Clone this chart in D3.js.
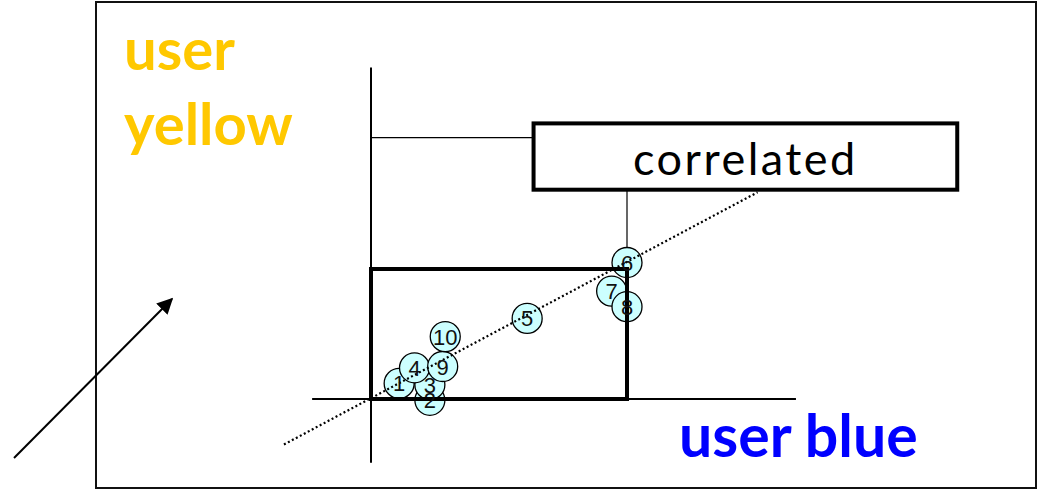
<!DOCTYPE html>
<html>
<head>
<meta charset="utf-8">
<script src="https://cdn.jsdelivr.net/npm/d3@7"></script>
<style>
  body { margin: 0; background: #fff; }
  svg { display: block; }
</style>
</head>
<body>
<script>
// points: user blue score (x) vs user yellow score (y), thresholds at 1
var pointIds = ["1", "2", "3", "4", "5", "6", "7", "8", "9", "10"];
var blueVals = [0.11, 0.23, 0.23, 0.17, 0.61, 1.00, 0.94, 1.00, 0.28, 0.29];
var yellowVals = [0.12, -0.01, 0.11, 0.24, 0.62, 1.05, 0.83, 0.71, 0.25, 0.48];

// trend line end points
var trendX = [-0.34, 1.51];
var trendY = [-0.35, 1.59];

// axis extents
var xAxisExtent = [-0.23, 1.66];
var yAxisExtent = [-0.49, 2.55];

// threshold box and callout
var threshold = [1, 1];
var calloutX = [0.635, 2.29];
var calloutY = [1.61, 2.12];
var calloutText = "correlated";

var width = 1044, height = 490;

var x = d3.scaleLinear().domain([0, 1]).range([371, 627]);
var y = d3.scaleLinear().domain([0, 1]).range([399, 269]);

var svg = d3.select("body").append("svg")
    .attr("width", width)
    .attr("height", height);

svg.append("defs").append("marker")
    .attr("id", "arrow")
    .attr("viewBox", "0 0 10 10")
    .attr("refX", 9)
    .attr("refY", 5)
    .attr("markerWidth", 8)
    .attr("markerHeight", 8)
    .attr("orient", "auto")
    .append("path")
    .attr("d", "M0,0 L10,5 L0,10 z")
    .attr("fill", "#000");

// outer frame
svg.append("rect")
    .attr("x", 96).attr("y", 2)
    .attr("width", 940).attr("height", 486)
    .attr("fill", "none")
    .attr("stroke", "#111")
    .attr("stroke-width", 2);

// the diagonal arrow in the corner
svg.append("line")
    .attr("x1", 14).attr("y1", 458)
    .attr("x2", 172).attr("y2", 299)
    .attr("stroke", "#000")
    .attr("stroke-width", 2)
    .attr("marker-end", "url(#arrow)");

// labels
var bigFont = "Lato, 'Open Sans', sans-serif";
svg.append("text")
    .attr("x", 124).attr("y", 70)
    .style("font-family", bigFont)
    .style("font-weight", "bold")
    .style("font-size", "58px")
    .attr("fill", "#FFC800")
    .text("user");
svg.append("text")
    .attr("x", 124).attr("y", 145)
    .style("font-family", bigFont)
    .style("font-weight", "bold")
    .style("font-size", "58px")
    .attr("fill", "#FFC800")
    .text("yellow");
svg.append("text")
    .attr("x", 679).attr("y", 457)
    .style("font-family", bigFont)
    .style("font-weight", "bold")
    .style("font-size", "59px")
    .attr("fill", "#0000FF")
    .text("user blue");

// axes
svg.append("line")
    .attr("x1", x(xAxisExtent[0])).attr("y1", y(0))
    .attr("x2", x(xAxisExtent[1])).attr("y2", y(0))
    .attr("stroke", "#000").attr("stroke-width", 2);
svg.append("line")
    .attr("x1", x(0)).attr("y1", y(yAxisExtent[0]))
    .attr("x2", x(0)).attr("y2", y(yAxisExtent[1]))
    .attr("stroke", "#000").attr("stroke-width", 2);

// callout connectors
svg.append("line")
    .attr("x1", x(0)).attr("y1", y(2.01))
    .attr("x2", x(calloutX[0])).attr("y2", y(2.01))
    .attr("stroke", "#000").attr("stroke-width", 1.2);
svg.append("line")
    .attr("x1", x(threshold[0])).attr("y1", y(calloutY[0]))
    .attr("x2", x(threshold[0])).attr("y2", y(yellowVals[5]))
    .attr("stroke", "#000").attr("stroke-width", 1.2);

// callout box
svg.append("rect")
    .attr("x", x(calloutX[0])).attr("y", y(calloutY[1]))
    .attr("width", x(calloutX[1]) - x(calloutX[0]))
    .attr("height", y(calloutY[0]) - y(calloutY[1]))
    .attr("fill", "#fff")
    .attr("stroke", "#000")
    .attr("stroke-width", 4);
svg.append("text")
    .attr("x", (x(calloutX[0]) + x(calloutX[1])) / 2)
    .attr("y", y(calloutY[0]) - 15)
    .attr("text-anchor", "middle")
    .style("font-family", bigFont)
    .style("font-size", "45px")
    .style("letter-spacing", "2.5px")
    .attr("fill", "#000")
    .text(calloutText);

// points
var pts = pointIds.map(function (d, i) {
    return {id: d, bx: blueVals[i], yy: yellowVals[i]};
});

svg.selectAll("circle.pt")
    .data(pts)
    .enter()
    .append("circle")
    .attr("class", "pt")
    .attr("cx", function (d) { return x(d.bx); })
    .attr("cy", function (d) { return y(d.yy); })
    .attr("r", 15)
    .attr("fill", "#CCFFFF")
    .attr("stroke", "#000")
    .attr("stroke-width", 1.3);

// threshold rectangle
svg.append("rect")
    .attr("x", x(0)).attr("y", y(threshold[1]))
    .attr("width", x(threshold[0]) - x(0))
    .attr("height", y(0) - y(threshold[1]))
    .attr("fill", "none")
    .attr("stroke", "#000")
    .attr("stroke-width", 4);

// dotted trend
svg.append("line")
    .attr("x1", x(trendX[0])).attr("y1", y(trendY[0]))
    .attr("x2", x(trendX[1])).attr("y2", y(trendY[1]))
    .attr("stroke", "#000")
    .attr("stroke-width", 2.2)
    .attr("stroke-dasharray", "2,2.5");

svg.selectAll("text.pt")
    .data(pts)
    .enter()
    .append("text")
    .attr("class", "pt")
    .attr("x", function (d) { return x(d.bx); })
    .attr("y", function (d) { return y(d.yy) + 8; })
    .attr("text-anchor", "middle")
    .style("font-family", "'Liberation Sans', Arial, sans-serif")
    .style("font-size", "22px")
    .attr("fill", "#111")
    .text(function (d) { return d.id; });
</script>
</body>
</html>
